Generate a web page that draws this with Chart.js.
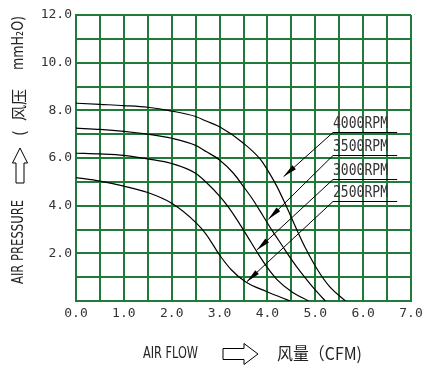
<!DOCTYPE html>
<html lang="en">
<head>
  <meta charset="UTF-8" />
  <title>Fan P-Q Curve</title>
  <script src="https://cdn.jsdelivr.net/npm/chart.js"></script>
  <style>
    html, body {
      margin: 0;
      padding: 0;
      background: #ffffff;
    }
    .chart-box {
      width: 434px;
      height: 377px;
      position: relative;
    }
  </style>
</head>
<body>
  <div class="chart-box">
    <canvas id="pqChart"></canvas>
  </div>

  <script>
// values (flow in CFM, pressure in mmH2O)
const rpmLabels = ['4000RPM', '3500RPM', '3000RPM', '2500RPM'];

const flow4000 = [0, 0.5, 1.0, 1.5, 2.0, 2.5, 2.72, 3.0, 3.5, 3.85, 4.0, 4.2, 4.4, 4.6, 4.8, 5.05, 5.3, 5.63];
const pres4000 = [8.3, 8.25, 8.2, 8.13, 7.97, 7.74, 7.55, 7.31, 6.62, 5.95, 5.5, 4.8, 3.95, 3.05, 2.2, 1.3, 0.6, 0];

const flow3500 = [0, 0.5, 1.0, 1.5, 2.0, 2.5, 2.72, 3.0, 3.29, 3.5, 3.68, 3.9, 4.1, 4.3, 4.5, 4.7, 4.9, 5.05, 5.21];
const pres3500 = [7.25, 7.2, 7.12, 7.0, 6.83, 6.53, 6.27, 5.92, 5.36, 4.8, 4.3, 3.6, 2.95, 2.35, 1.75, 1.2, 0.7, 0.35, 0];

const flow3000 = [0, 0.5, 1.0, 1.5, 2.0, 2.5, 2.72, 3.0, 3.2, 3.4, 3.6, 3.8, 4.0, 4.2, 4.5, 4.86];
const pres3000 = [6.2, 6.17, 6.11, 5.96, 5.77, 5.36, 4.98, 4.4, 3.9, 3.3, 2.65, 2.0, 1.4, 0.9, 0.4, 0];

const flow2500 = [0, 0.5, 1.0, 1.5, 2.0, 2.5, 2.72, 3.0, 3.25, 3.54, 3.99, 4.48];
const pres2500 = [5.18, 5.03, 4.82, 4.55, 4.1, 3.3, 2.8, 1.93, 1.3, 0.81, 0.39, 0];

const xTickValues = [0, 1, 2, 3, 4, 5, 6, 7];
const xTickLabels = ['0.0', '1.0', '2.0', '3.0', '4.0', '5.0', '6.0', '7.0'];
const yTickValues = [2, 4, 6, 8, 10, 12];
const yTickLabels = ['2.0', '4.0', '6.0', '8.0', '10.0', '12.0'];

// callout leaders, in data units: underline height, underline span, arrow tip
const callouts = [
  { lineY: 7.08, x0: 5.37, x1: 6.71, tipX: 4.34, tipY: 5.22 },
  { lineY: 6.13, x0: 5.37, x1: 6.71, tipX: 4.02, tipY: 3.43 },
  { lineY: 5.12, x0: 5.37, x1: 6.71, tipX: 3.78, tipY: 2.14 },
  { lineY: 4.21, x0: 5.37, x1: 6.71, tipX: 3.57, tipY: 0.81 }
];

const GRID = '#217a3a';
const TICK_FONT = { family: "'DejaVu Sans Mono', monospace", size: 13 };

function pts(xs, ys) {
  return xs.map((v, i) => ({ x: v, y: ys[i] }));
}

function curve(label, xs, ys) {
  return {
    label: label,
    data: pts(xs, ys),
    showLine: true,
    borderColor: '#000',
    borderWidth: 1.2,
    pointRadius: 0,
    fill: false,
    cubicInterpolationMode: 'monotone'
  };
}

// draws text squeezed/stretched to a given width
function fitText(ctx, text, x, y, width) {
  const w = ctx.measureText(text).width;
  ctx.save();
  ctx.translate(x, y);
  ctx.scale(width / w, 1);
  ctx.fillText(text, 0, 0);
  ctx.restore();
}

function hollowArrow(ctx, len, shaftH, headH, headLen) {
  // pointing to +x, starting at origin, centred on y = 0
  ctx.beginPath();
  ctx.moveTo(0, -shaftH / 2);
  ctx.lineTo(len - headLen, -shaftH / 2);
  ctx.lineTo(len - headLen, -headH / 2);
  ctx.lineTo(len, 0);
  ctx.lineTo(len - headLen, headH / 2);
  ctx.lineTo(len - headLen, shaftH / 2);
  ctx.lineTo(0, shaftH / 2);
  ctx.closePath();
  ctx.fillStyle = '#fff';
  ctx.fill();
  ctx.stroke();
}

const decor = {
  id: 'decor',
  afterDraw(chart) {
    const { ctx, scales: { x, y } } = chart;
    ctx.save();

    // rpm callouts
    ctx.strokeStyle = '#000';
    ctx.lineWidth = 1;
    callouts.forEach((c, i) => {
      const ly = Math.round(y.getPixelForValue(c.lineY)) + 0.5;
      const lx0 = x.getPixelForValue(c.x0);
      const lx1 = x.getPixelForValue(c.x1);
      const tx = x.getPixelForValue(c.tipX);
      const ty = y.getPixelForValue(c.tipY);
      ctx.beginPath();
      ctx.moveTo(lx1, ly);
      ctx.lineTo(lx0, ly);
      ctx.lineTo(tx, ty);
      ctx.stroke();

      const ang = Math.atan2(ly - ty, lx0 - tx);
      ctx.save();
      ctx.translate(tx, ty);
      ctx.rotate(ang);
      ctx.beginPath();
      ctx.moveTo(0, 0);
      ctx.lineTo(14, -2.6);
      ctx.lineTo(14, 2.6);
      ctx.closePath();
      ctx.fillStyle = '#000';
      ctx.fill();
      ctx.restore();

      ctx.fillStyle = '#333';
      ctx.font = "15px 'DejaVu Sans Mono', monospace";
      ctx.textBaseline = 'alphabetic';
      ctx.textAlign = 'left';
      fitText(ctx, rpmLabels[i], lx0, ly - 5, 55);
    });

    // x axis title
    ctx.fillStyle = '#222';
    ctx.strokeStyle = '#000';
    ctx.textBaseline = 'middle';
    ctx.font = "16px 'DejaVu Sans', sans-serif";
    fitText(ctx, 'AIR FLOW', 143, 354, 55);
    ctx.save();
    ctx.translate(223, 354);
    hollowArrow(ctx, 35, 11, 21, 14);
    ctx.restore();
    ctx.fillStyle = '#222';
    ctx.font = "17px 'Noto Sans CJK SC', sans-serif";
    fitText(ctx, '风量（CFM)', 277, 354, 85);

    // y axis title, reading upwards
    ctx.save();
    ctx.translate(19, 0);
    ctx.rotate(-Math.PI / 2);
    ctx.font = "16px 'DejaVu Sans', sans-serif";
    fitText(ctx, 'AIR PRESSURE', -284, 0, 84);
    ctx.save();
    ctx.translate(-183, 1);
    hollowArrow(ctx, 35, 8, 15, 15);
    ctx.restore();
    ctx.fillStyle = '#222';
    ctx.font = "16px 'Noto Sans CJK SC', sans-serif";
    ctx.fillText('(', -136, 0);
    fitText(ctx, '风压', -121, 0, 32);
    ctx.font = "15px 'DejaVu Sans', sans-serif";
    fitText(ctx, 'mmH₂O)', -70, 0, 54);
    ctx.restore();

    ctx.restore();
  }
};

const ctx = document.getElementById('pqChart').getContext('2d');
const pqChart = new Chart(ctx, {
  type: 'scatter',
  data: {
    datasets: [
      curve(rpmLabels[0], flow4000, pres4000),
      curve(rpmLabels[1], flow3500, pres3500),
      curve(rpmLabels[2], flow3000, pres3000),
      curve(rpmLabels[3], flow2500, pres2500)
    ]
  },
  options: {
    responsive: true,
    maintainAspectRatio: false,
    animation: false,
    events: [],
    layout: { padding: { top: 15, right: 23, left: 0, bottom: 0 } },
    plugins: {
      legend: { display: false },
      tooltip: { enabled: false }
    },
    scales: {
      x: {
        type: 'linear',
        min: 0,
        max: 7,
        afterFit: s => { s.height = 76; },
        ticks: {
          stepSize: 0.5,
          autoSkip: false,
          maxRotation: 0,
          padding: 5,
          color: '#333',
          font: TICK_FONT,
          callback: v => {
            const i = xTickValues.indexOf(v);
            return i < 0 ? '' : xTickLabels[i];
          }
        },
        grid: { color: GRID, lineWidth: 2, drawTicks: false },
        border: { color: GRID, width: 2 }
      },
      y: {
        type: 'linear',
        min: 0,
        max: 12,
        afterFit: s => { s.width = 76; },
        ticks: {
          stepSize: 1,
          autoSkip: false,
          padding: 4,
          color: '#333',
          font: TICK_FONT,
          callback: v => {
            const i = yTickValues.indexOf(v);
            return i < 0 ? '' : yTickLabels[i];
          }
        },
        grid: { color: GRID, lineWidth: 2, drawTicks: false },
        border: { color: GRID, width: 2 }
      }
    }
  },
  plugins: [decor]
});
  </script>
</body>
</html>
